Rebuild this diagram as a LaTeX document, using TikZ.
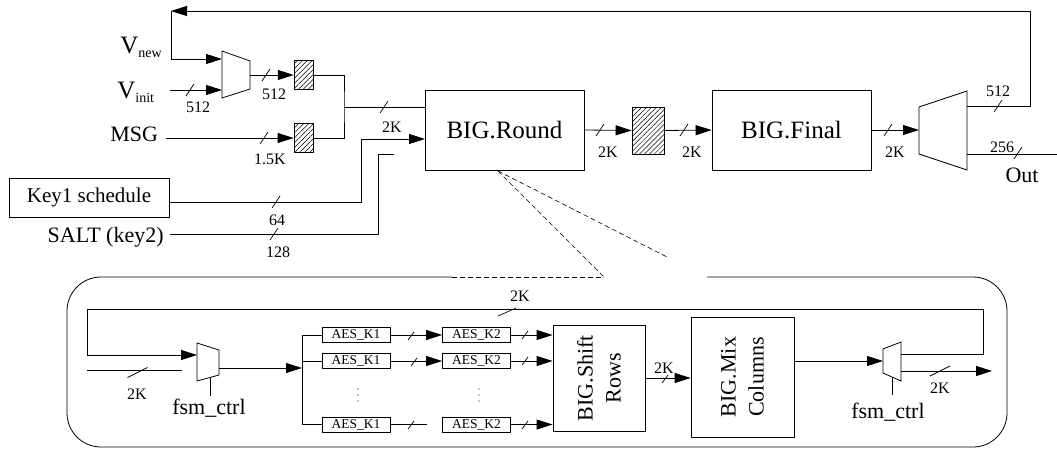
\documentclass[tikz,border=0pt]{standalone}
\usepackage{fontspec}
\setmainfont{Liberation Serif}
\usetikzlibrary{arrows.meta,patterns.meta}
\begin{document}
\begin{tikzpicture}[x=1pt,y=-1pt,line width=0.8pt,
  arr/.style={-{Triangle[length=16pt,width=10pt]}},
  blk/.style={draw, minimum width=159pt, minimum height=80pt, inner sep=0pt, font=\fontsize{25}{30}\selectfont},
  reg/.style={draw, inner sep=0pt, pattern={Lines[angle=45,distance=3.5pt,line width=0.5pt]}},
  lbl/.style={font=\fontsize{22}{26}\selectfont, inner sep=0pt},
  sm/.style={font=\fontsize{16}{18}\selectfont, inner sep=0pt},
  aes/.style={draw, minimum width=68pt, minimum height=15pt, inner sep=0pt, font=\fontsize{13.5}{14}\selectfont},
  rbox/.style={draw, inner sep=0pt},
  rtxt/.style={rotate=90, align=center, inner sep=0pt, font=\fontsize{22}{28}\selectfont},
  zoomline/.style={line width=0.6pt, dash pattern=on 5pt off 3pt},
  dotpt/.style={fill, circle, inner sep=0pt, minimum size=1.3pt},
  bus/.pic={\draw[line width=0.7pt] (-4,6) -- (4,-6);},
  sbus/.pic={\draw[line width=0.7pt] (-3,4) -- (3,-4);},
  wbus/.pic={\draw[line width=0.7pt] (-10,5) -- (10,-5);},
  tbus/.pic={\draw[line width=0.7pt] (-9,4) -- (9,-4);},
]
\useasboundingbox (0,0) rectangle (1057,452);

% ---------- top part ----------
\node[blk] (round) at (504.5,130) {BIG.Round};
\node[blk] (final) at (791.5,130) {BIG.Final};
\node[reg, minimum width=19pt, minimum height=29pt] (r1) at (303.5,75) {};
\node[reg, minimum width=19pt, minimum height=29pt] (r2) at (303.5,138) {};
\node[reg, minimum width=32pt, minimum height=47pt] (r3) at (648,130.5) {};
\node[draw, minimum width=160pt, minimum height=39pt, inner sep=0pt, font=\fontsize{21}{24}\selectfont] (key1) at (89,197.5) {Key1 schedule};

\node[lbl, anchor=base west] (vnew) at (120,54) {\fontsize{25}{26}\selectfont V\raisebox{-4pt}{\fontsize{14}{14}\selectfont new}};
\node[lbl, anchor=base west] (vinit) at (117,99) {\fontsize{25}{26}\selectfont V\raisebox{-4pt}{\fontsize{14}{14}\selectfont init}};
\node[lbl, anchor=base west] (msg) at (110,141) {MSG};
\node[lbl, anchor=base east] (salt) at (164,242) {SALT (key2)};

% mux 1
\draw (222,51) -- (250,61) -- (250,89) -- (222,98) -- cycle;
\coordinate (m1a) at (222,59);
\coordinate (m1b) at (222,90);
\coordinate (m1o) at (250,75);

% demux
\draw (919,107) -- (967,91) -- (967,170) -- (919,154) -- cycle;
\coordinate (dmxin) at (919,130);
\coordinate (dmx512) at (967,106);
\coordinate (dmx256) at (967,154);

% feedback
\coordinate (fbR) at (1030,11);
\coordinate (fbL) at (171,11);
\draw[arr] (dmx512) -| (fbR) -- (fbL);
\draw[arr] (fbL) |- (m1a);

\coordinate (vinS) at (170,90);
\draw[arr] (vinS) -- (m1b);
\draw[arr] (m1o) -- (r1.west);
\coordinate (msgS) at (166,138);
\draw[arr] (msgS) -- (r2.west);
\coordinate (jn) at (344,107);
\draw (r1.east) -| (jn) |- (r2.east);
\draw (jn) -- (round.west |- jn);

\coordinate (k1o) at (169,202);
\coordinate (k1c) at (361,139);
\coordinate (rin1) at (425,139);
\draw[arr] (k1o) -| (k1c) -- (rin1);
\coordinate (sltS) at (170,234);
\coordinate (sltC) at (378,154);
\coordinate (sltE) at (394,154);
\draw (sltS) -| (sltC) -- (sltE);

\draw[arr] (round.east) -- (r3.west);
\draw[arr] (r3.east) -- (final.west);
\draw[arr] (final.east) -- (dmxin);
\coordinate (outE) at (1057,154);
\draw (dmx256) -- (outE);

% bus slashes top
\pic at (190,90) {bus};
\pic at (266,75) {bus};
\pic at (264,138) {bus};
\pic at (384,107) {bus};
\pic at (276,202) {bus};
\pic at (274,234) {bus};
\pic at (600,130) {bus};
\pic at (684,130) {bus};
\pic at (888,130) {bus};
\pic at (998,106) {bus};
\pic at (1018,153) {bus};

% small labels top
\node[sm] (l1) at (198,107) {512};
\node[sm] (l2) at (274,94) {512};
\node[sm] (l3) at (270,159) {1.5K};
\node[sm] (l4) at (392,127) {2K};
\node[sm] (l5) at (277,220) {64};
\node[sm] (l6) at (278,252) {128};
\node[sm] (l7) at (608,152) {2K};
\node[sm] (l8) at (692,152) {2K};
\node[sm] (l9) at (895,152) {2K};
\node[sm] (l10) at (998,91) {512};
\node[sm] (l11) at (1002,147) {256};
\node[lbl] (out) at (1022,175) {Out};

% zoom lines
\coordinate (zs) at (498,171);
\coordinate (z1) at (604,277);
\coordinate (z2) at (669,258);
\coordinate (zb) at (452,277);
\draw[zoomline] (zs) -- (z1);
\draw[zoomline] (zs) -- (z2);
\draw[zoomline] (zb) -- (z1);

% ---------- bottom detail ----------
\coordinate (ze) at (707,277);
\draw[rounded corners=34pt] (zb) -- (67,277) -- (67,447) -- (1007,447) -- (1007,277) -- (ze);

% mux 3
\draw (197,343) -- (219,350) -- (219,375) -- (197,381) -- cycle;
\coordinate (m3a) at (197,355);
\coordinate (m3o) at (219,368);
\coordinate (m3c) at (210,377.5);
\coordinate (m3cE) at (210,396);
% mux 4
\draw (883,349) -- (901,342) -- (901,381) -- (883,373) -- cycle;
\coordinate (m4a) at (883,361);
\coordinate (m4o1) at (901,354);
\coordinate (m4o2) at (901,371);
\coordinate (m4c) at (892,377);
\coordinate (m4cE) at (892,395);

\coordinate (fbi1) at (87,309);
\coordinate (fbi2) at (983,309);
\draw[arr] (m4o1) -| (fbi2) -- (fbi1) |- (m3a);
\coordinate (inS) at (87,370);
\coordinate (inE) at (182,370);
\draw (inS) -- (inE);
\draw (m3c) -- (m3cE);
\draw (m4c) -- (m4cE);

\node[aes] (k1a) at (356,335) {AES\_K1};
\node[aes] (k1b) at (356,361) {AES\_K1};
\node[aes] (k1d) at (356,424.5) {AES\_K1};
\node[aes] (k2a) at (476.5,335) {AES\_K2};
\node[aes] (k2b) at (476.5,361) {AES\_K2};
\node[aes] (k2d) at (476.5,424.5) {AES\_K2};
% vertical ellipses
\foreach \yy [count=\i] in {389,395,401} {
  \node[dotpt] (da\i) at (358,\yy) {};
  \node[dotpt] (db\i) at (479,\yy) {};
}

\node[rbox, minimum width=92pt, minimum height=106pt] (sr) at (599,378) {};
\node[rtxt] (srt) at (sr.center) {BIG.Shift\\Rows};
\node[rbox, minimum width=103pt, minimum height=120pt] (mc) at (742.5,377) {};
\node[rtxt] (mct) at (mc.center) {BIG.Mix\\Columns};

\coordinate (fan) at (302,368);
\coordinate (fanT) at (302,335);
\coordinate (fanB) at (302,424.5);
\draw[arr] (m3o) -- (fan);
\draw (k1a.west) -- (fanT) -- (fanB) -- (k1d.west);
\draw (fanT |- k1b.west) -- (k1b.west);

\draw[arr] (k1a) -- (k2a);
\draw[arr] (k1b) -- (k2b);
\coordinate (k1dE) at (427,424.5);
\draw (k1d.east) -- (k1dE);
\draw[arr] (k2a.east) -- (sr.west |- k2a.east);
\draw[arr] (k2b.east) -- (sr.west |- k2b.east);
\draw[arr] (k2d.east) -- (sr.west |- k2d.east);
\draw[arr] (sr.east) -- (mc.west |- sr.east);
\draw[arr] (mc.east |- m4a) -- (m4a);
\coordinate (outI) at (992,371);
\draw[arr] (m4o2) -- (outI);

% inner slashes
\pic at (137.5,372.5) {wbus};
\pic at (507,312) {tbus};
\pic at (940,371) {wbus};
\pic at (411,336) {sbus};
\pic at (414,362) {sbus};
\pic at (411,425) {sbus};
\pic at (525,335) {sbus};
\pic at (525,361) {sbus};
\pic at (525,425) {sbus};
\pic at (665,379) {sbus};

% inner labels
\node[sm] (i1) at (520,296) {2K};
\node[sm] (i2) at (137,394) {2K};
\node[sm] (i3) at (664,368) {2K};
\node[sm] (i4) at (940,388) {2K};
\node[lbl] (f1) at (209,408) {fsm\_ctrl};
\node[lbl] (f2) at (888,412) {fsm\_ctrl};
\end{tikzpicture}
\end{document}
